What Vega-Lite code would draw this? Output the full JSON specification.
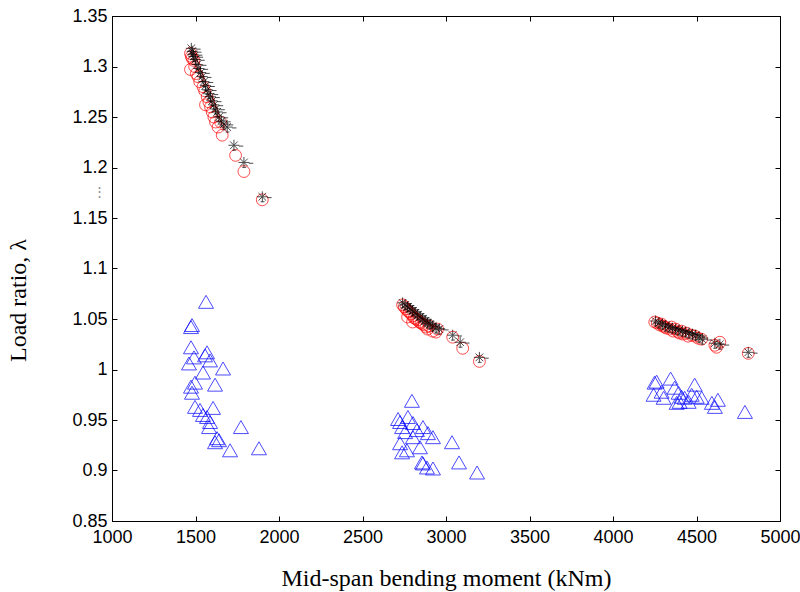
{
  "$schema": "https://vega.github.io/schema/vega-lite/v6.json",
  "width": 668,
  "height": 505,
  "autosize": "none",
  "padding": {"left": 112, "top": 16, "right": 20, "bottom": 71},
  "background": "white",
  "config": {
    "view": {"stroke": "black", "strokeWidth": 1},
    "axis": {
      "grid": false,
      "domainColor": "black",
      "tickColor": "black",
      "labelColor": "black",
      "titleColor": "black",
      "tickSize": -5,
      "labelFlush": false,
      "labelOverlap": false,
      "labelFont": "Liberation Sans",
      "labelFontSize": 18,
      "titleFont": "Liberation Serif",
      "titleFontWeight": "normal",
      "titleFontSize": 24
    }
  },
  "datasets": {
    "pts": [
      {"s": "star", "m": 1475, "r": 1.318}, {"s": "star", "m": 1480, "r": 1.315}, {"s": "star", "m": 1485, "r": 1.312},
      {"s": "star", "m": 1490, "r": 1.310}, {"s": "star", "m": 1500, "r": 1.307}, {"s": "star", "m": 1510, "r": 1.302},
      {"s": "star", "m": 1520, "r": 1.298}, {"s": "star", "m": 1530, "r": 1.294}, {"s": "star", "m": 1540, "r": 1.290},
      {"s": "star", "m": 1550, "r": 1.285}, {"s": "star", "m": 1560, "r": 1.281}, {"s": "star", "m": 1570, "r": 1.277},
      {"s": "star", "m": 1580, "r": 1.273}, {"s": "star", "m": 1590, "r": 1.270}, {"s": "star", "m": 1600, "r": 1.266},
      {"s": "star", "m": 1610, "r": 1.262}, {"s": "star", "m": 1620, "r": 1.258}, {"s": "star", "m": 1630, "r": 1.255},
      {"s": "star", "m": 1640, "r": 1.250}, {"s": "star", "m": 1655, "r": 1.246}, {"s": "star", "m": 1670, "r": 1.243},
      {"s": "star", "m": 1690, "r": 1.240}, {"s": "star", "m": 1730, "r": 1.222}, {"s": "star", "m": 1790, "r": 1.205},
      {"s": "star", "m": 1900, "r": 1.171},
      {"s": "circ", "m": 1470, "r": 1.313}, {"s": "circ", "m": 1475, "r": 1.310}, {"s": "circ", "m": 1480, "r": 1.308},
      {"s": "circ", "m": 1490, "r": 1.306}, {"s": "circ", "m": 1470, "r": 1.297}, {"s": "circ", "m": 1495, "r": 1.300},
      {"s": "circ", "m": 1505, "r": 1.293}, {"s": "circ", "m": 1515, "r": 1.290}, {"s": "circ", "m": 1525, "r": 1.285},
      {"s": "circ", "m": 1545, "r": 1.280}, {"s": "circ", "m": 1555, "r": 1.276}, {"s": "circ", "m": 1560, "r": 1.262},
      {"s": "circ", "m": 1570, "r": 1.270}, {"s": "circ", "m": 1580, "r": 1.265}, {"s": "circ", "m": 1590, "r": 1.260},
      {"s": "circ", "m": 1600, "r": 1.255}, {"s": "circ", "m": 1610, "r": 1.250}, {"s": "circ", "m": 1620, "r": 1.245},
      {"s": "circ", "m": 1635, "r": 1.240}, {"s": "circ", "m": 1650, "r": 1.245}, {"s": "circ", "m": 1660, "r": 1.232},
      {"s": "circ", "m": 1740, "r": 1.212}, {"s": "circ", "m": 1790, "r": 1.196}, {"s": "circ", "m": 1900, "r": 1.168},
      {"s": "tri", "m": 1563, "r": 1.067}, {"s": "tri", "m": 1473, "r": 1.042}, {"s": "tri", "m": 1479, "r": 1.044},
      {"s": "tri", "m": 1473, "r": 1.022}, {"s": "tri", "m": 1569, "r": 1.017}, {"s": "tri", "m": 1491, "r": 1.012},
      {"s": "tri", "m": 1557, "r": 1.014}, {"s": "tri", "m": 1587, "r": 1.009}, {"s": "tri", "m": 1461, "r": 1.006},
      {"s": "tri", "m": 1665, "r": 1.001}, {"s": "tri", "m": 1545, "r": 0.997}, {"s": "tri", "m": 1497, "r": 0.987},
      {"s": "tri", "m": 1473, "r": 0.983}, {"s": "tri", "m": 1617, "r": 0.985}, {"s": "tri", "m": 1479, "r": 0.977},
      {"s": "tri", "m": 1497, "r": 0.963}, {"s": "tri", "m": 1527, "r": 0.960}, {"s": "tri", "m": 1605, "r": 0.962},
      {"s": "tri", "m": 1545, "r": 0.955}, {"s": "tri", "m": 1569, "r": 0.953}, {"s": "tri", "m": 1587, "r": 0.948},
      {"s": "tri", "m": 1581, "r": 0.943}, {"s": "tri", "m": 1772, "r": 0.943}, {"s": "tri", "m": 1629, "r": 0.932},
      {"s": "tri", "m": 1641, "r": 0.930}, {"s": "tri", "m": 1617, "r": 0.928}, {"s": "tri", "m": 1707, "r": 0.920},
      {"s": "tri", "m": 1880, "r": 0.922},
      {"s": "circ", "m": 2740, "r": 1.064}, {"s": "circ", "m": 2750, "r": 1.062}, {"s": "circ", "m": 2760, "r": 1.060},
      {"s": "circ", "m": 2770, "r": 1.058}, {"s": "circ", "m": 2780, "r": 1.057}, {"s": "circ", "m": 2770, "r": 1.052},
      {"s": "circ", "m": 2790, "r": 1.055}, {"s": "circ", "m": 2800, "r": 1.053}, {"s": "circ", "m": 2810, "r": 1.051},
      {"s": "circ", "m": 2820, "r": 1.050}, {"s": "circ", "m": 2830, "r": 1.049}, {"s": "circ", "m": 2800, "r": 1.047},
      {"s": "circ", "m": 2840, "r": 1.047}, {"s": "circ", "m": 2850, "r": 1.046}, {"s": "circ", "m": 2860, "r": 1.045},
      {"s": "circ", "m": 2870, "r": 1.044}, {"s": "circ", "m": 2880, "r": 1.042}, {"s": "circ", "m": 2890, "r": 1.040},
      {"s": "circ", "m": 2900, "r": 1.043}, {"s": "circ", "m": 2920, "r": 1.038}, {"s": "circ", "m": 2940, "r": 1.037},
      {"s": "circ", "m": 2950, "r": 1.040}, {"s": "circ", "m": 3040, "r": 1.032}, {"s": "circ", "m": 3100, "r": 1.021},
      {"s": "circ", "m": 3200, "r": 1.008},
      {"s": "star", "m": 2740, "r": 1.066}, {"s": "star", "m": 2755, "r": 1.064}, {"s": "star", "m": 2770, "r": 1.062},
      {"s": "star", "m": 2785, "r": 1.060}, {"s": "star", "m": 2800, "r": 1.058}, {"s": "star", "m": 2815, "r": 1.056},
      {"s": "star", "m": 2830, "r": 1.054}, {"s": "star", "m": 2845, "r": 1.052}, {"s": "star", "m": 2860, "r": 1.050},
      {"s": "star", "m": 2875, "r": 1.048}, {"s": "star", "m": 2890, "r": 1.046}, {"s": "star", "m": 2905, "r": 1.045},
      {"s": "star", "m": 2920, "r": 1.043}, {"s": "star", "m": 2940, "r": 1.041}, {"s": "star", "m": 2960, "r": 1.040},
      {"s": "star", "m": 3040, "r": 1.034}, {"s": "star", "m": 3085, "r": 1.027}, {"s": "star", "m": 3200, "r": 1.012},
      {"s": "tri", "m": 2796, "r": 0.969}, {"s": "tri", "m": 2713, "r": 0.951}, {"s": "tri", "m": 2725, "r": 0.948},
      {"s": "tri", "m": 2772, "r": 0.953}, {"s": "tri", "m": 2737, "r": 0.943}, {"s": "tri", "m": 2802, "r": 0.947},
      {"s": "tri", "m": 2862, "r": 0.943}, {"s": "tri", "m": 2755, "r": 0.938}, {"s": "tri", "m": 2826, "r": 0.940},
      {"s": "tri", "m": 2892, "r": 0.937}, {"s": "tri", "m": 2922, "r": 0.933}, {"s": "tri", "m": 2725, "r": 0.927},
      {"s": "tri", "m": 2844, "r": 0.923}, {"s": "tri", "m": 2766, "r": 0.920}, {"s": "tri", "m": 3036, "r": 0.928},
      {"s": "tri", "m": 2737, "r": 0.918}, {"s": "tri", "m": 2856, "r": 0.908}, {"s": "tri", "m": 2886, "r": 0.903},
      {"s": "tri", "m": 2922, "r": 0.902}, {"s": "tri", "m": 3078, "r": 0.908}, {"s": "tri", "m": 3186, "r": 0.898},
      {"s": "tri", "m": 2862, "r": 0.907}, {"s": "tri", "m": 2802, "r": 0.933},
      {"s": "circ", "m": 4250, "r": 1.047}, {"s": "circ", "m": 4265, "r": 1.046}, {"s": "circ", "m": 4280, "r": 1.044},
      {"s": "circ", "m": 4290, "r": 1.045}, {"s": "circ", "m": 4300, "r": 1.043}, {"s": "circ", "m": 4310, "r": 1.042},
      {"s": "circ", "m": 4320, "r": 1.041}, {"s": "circ", "m": 4340, "r": 1.040}, {"s": "circ", "m": 4350, "r": 1.042},
      {"s": "circ", "m": 4360, "r": 1.038}, {"s": "circ", "m": 4375, "r": 1.040}, {"s": "circ", "m": 4390, "r": 1.037},
      {"s": "circ", "m": 4400, "r": 1.036}, {"s": "circ", "m": 4410, "r": 1.038}, {"s": "circ", "m": 4420, "r": 1.035},
      {"s": "circ", "m": 4440, "r": 1.036}, {"s": "circ", "m": 4450, "r": 1.033}, {"s": "circ", "m": 4470, "r": 1.034},
      {"s": "circ", "m": 4490, "r": 1.033}, {"s": "circ", "m": 4510, "r": 1.031}, {"s": "circ", "m": 4530, "r": 1.030},
      {"s": "circ", "m": 4610, "r": 1.024}, {"s": "circ", "m": 4620, "r": 1.022}, {"s": "circ", "m": 4640, "r": 1.027},
      {"s": "circ", "m": 4810, "r": 1.016},
      {"s": "star", "m": 4255, "r": 1.048}, {"s": "star", "m": 4275, "r": 1.046}, {"s": "star", "m": 4295, "r": 1.045},
      {"s": "star", "m": 4315, "r": 1.043}, {"s": "star", "m": 4335, "r": 1.042}, {"s": "star", "m": 4355, "r": 1.041},
      {"s": "star", "m": 4375, "r": 1.040}, {"s": "star", "m": 4395, "r": 1.039}, {"s": "star", "m": 4415, "r": 1.038},
      {"s": "star", "m": 4435, "r": 1.037}, {"s": "star", "m": 4455, "r": 1.036}, {"s": "star", "m": 4475, "r": 1.035},
      {"s": "star", "m": 4495, "r": 1.034}, {"s": "star", "m": 4515, "r": 1.032}, {"s": "star", "m": 4535, "r": 1.030},
      {"s": "star", "m": 4610, "r": 1.026}, {"s": "star", "m": 4640, "r": 1.025}, {"s": "star", "m": 4810, "r": 1.017},
      {"s": "tri", "m": 4249, "r": 0.987}, {"s": "tri", "m": 4261, "r": 0.988}, {"s": "tri", "m": 4345, "r": 0.991},
      {"s": "tri", "m": 4489, "r": 0.985}, {"s": "tri", "m": 4243, "r": 0.975}, {"s": "tri", "m": 4291, "r": 0.978},
      {"s": "tri", "m": 4369, "r": 0.982}, {"s": "tri", "m": 4393, "r": 0.977}, {"s": "tri", "m": 4411, "r": 0.973},
      {"s": "tri", "m": 4429, "r": 0.972}, {"s": "tri", "m": 4471, "r": 0.975}, {"s": "tri", "m": 4501, "r": 0.973},
      {"s": "tri", "m": 4303, "r": 0.972}, {"s": "tri", "m": 4399, "r": 0.968}, {"s": "tri", "m": 4381, "r": 0.967},
      {"s": "tri", "m": 4453, "r": 0.968}, {"s": "tri", "m": 4531, "r": 0.972}, {"s": "tri", "m": 4592, "r": 0.967},
      {"s": "tri", "m": 4628, "r": 0.970}, {"s": "tri", "m": 4610, "r": 0.963}, {"s": "tri", "m": 4790, "r": 0.958}
    ],
    "note": [{"m": 928, "r": 1.176, "t": "⋮"}]
  },
  "resolve": {"axis": {"x": "independent", "y": "independent"}},
  "layer": [
    {
      "data": {"name": "pts"},
      "transform": [{"filter": "datum.s === 'tri'"}],
      "mark": {"type": "point", "shape": "triangle-up", "filled": false, "stroke": "#0000ff", "strokeWidth": 1, "size": 225},
      "encoding": {
        "x": {"field": "m", "type": "quantitative",
              "scale": {"domain": [1000, 5000], "nice": false, "zero": false},
              "axis": {"orient": "bottom", "values": [1000, 1500, 2000, 2500, 3000, 3500, 4000, 4500, 5000], "format": "d",
                       "labelPadding": 12, "title": "Mid-span bending moment (kNm)", "titleY": 57, "titleBaseline": "middle"}},
        "y": {"field": "r", "type": "quantitative",
              "scale": {"domain": [0.85, 1.35], "nice": false, "zero": false},
              "axis": {"orient": "left", "values": [0.85, 0.9, 0.95, 1, 1.05, 1.1, 1.15, 1.2, 1.25, 1.3, 1.35], "format": "~g",
                       "labelPadding": 10, "title": "Load ratio, λ", "titleX": -94, "titleY": 284, "titleAngle": -90,
                       "titleAlign": "center", "titleBaseline": "middle"}}
      }
    },
    {
      "data": {"name": "pts"},
      "transform": [{"filter": "datum.s === 'circ'"}],
      "mark": {"type": "point", "shape": "circle", "filled": false, "stroke": "#ff0000", "strokeWidth": 1, "size": 140},
      "encoding": {
        "x": {"field": "m", "type": "quantitative",
              "axis": {"orient": "top", "values": [1000, 1500, 2000, 2500, 3000, 3500, 4000, 4500, 5000], "labels": false, "title": null}},
        "y": {"field": "r", "type": "quantitative",
              "axis": {"orient": "right", "values": [0.85, 0.9, 0.95, 1, 1.05, 1.1, 1.15, 1.2, 1.25, 1.3, 1.35], "labels": false, "title": null}}
      }
    },
    {
      "data": {"name": "pts"},
      "transform": [{"filter": "datum.s === 'star'"}],
      "mark": {"type": "point", "shape": "M-1,0L1,0M0,-1L0,1M-0.7,-0.7L0.7,0.7M-0.7,0.7L0.7,-0.7M0.9,0.15L1.7,0.15M-0.3,0.9L0.4,0.9",
               "filled": false, "stroke": "black", "strokeWidth": 1, "size": 120},
      "encoding": {
        "x": {"field": "m", "type": "quantitative", "axis": null},
        "y": {"field": "r", "type": "quantitative", "axis": null}
      }
    },
    {
      "data": {"name": "note"},
      "mark": {"type": "text", "fontSize": 13, "color": "#888888", "font": "Liberation Sans"},
      "encoding": {
        "x": {"field": "m", "type": "quantitative", "axis": null},
        "y": {"field": "r", "type": "quantitative", "axis": null},
        "text": {"field": "t"}
      }
    }
  ]
}
